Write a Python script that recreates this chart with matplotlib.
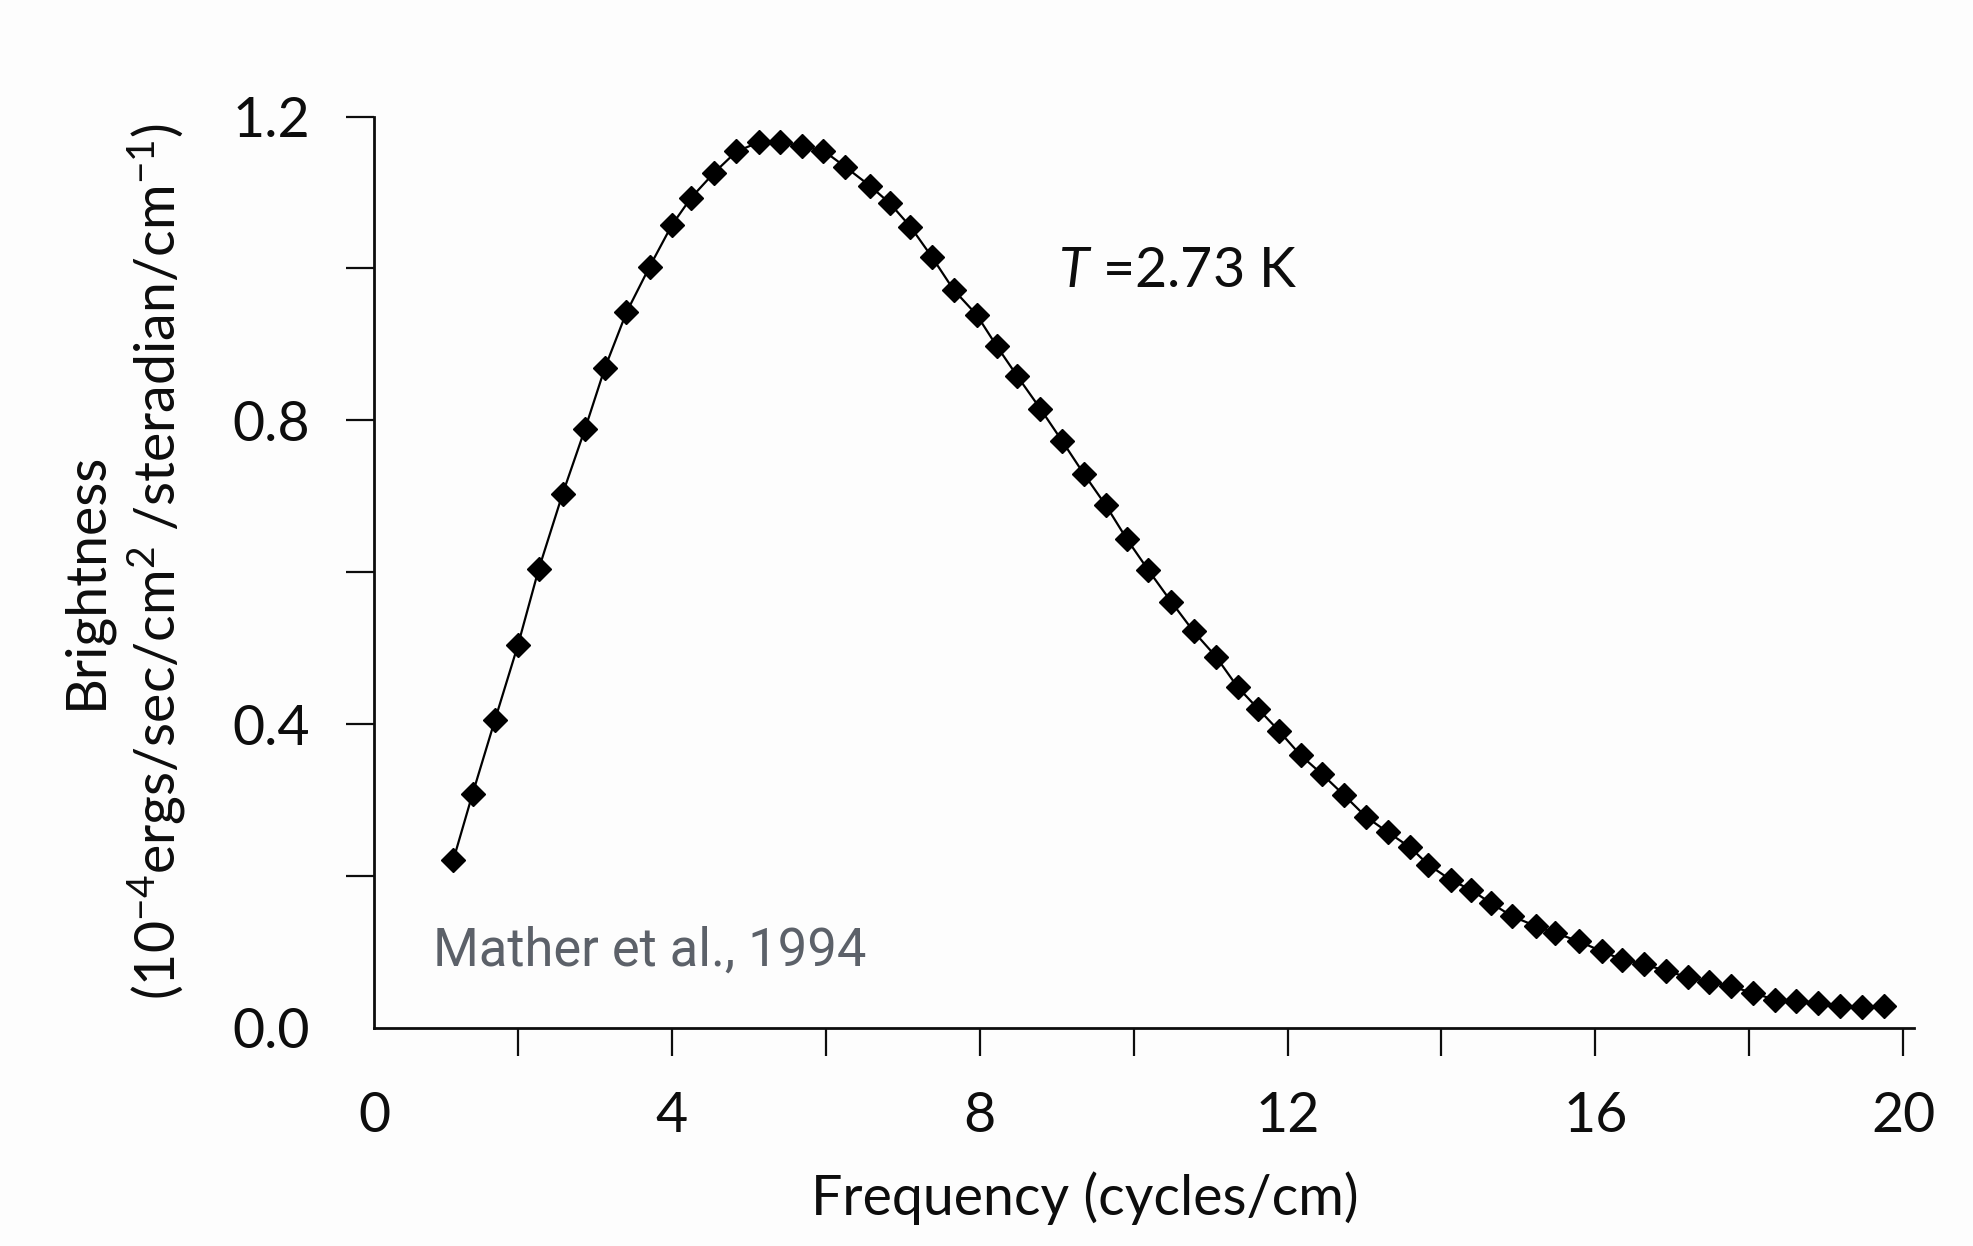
import matplotlib
matplotlib.use("Agg")
import matplotlib.pyplot as plt

# ---- data (COBE/FIRAS spectrum, T = 2.73 K) ----
frequency = [1.16, 1.41, 1.70, 2.00, 2.27, 2.58, 2.87, 3.13, 3.41, 3.71,
             4.00, 4.25, 4.55, 4.84, 5.13, 5.41, 5.69, 5.97, 6.25, 6.57,
             6.83, 7.10, 7.38, 7.66, 7.96, 8.22, 8.49, 8.79, 9.07, 9.35,
             9.64, 9.91, 10.19, 10.49, 10.78, 11.07, 11.35, 11.62, 11.89, 12.17,
             12.45, 12.73, 13.02, 13.30, 13.59, 13.83, 14.12, 14.38, 14.65, 14.92,
             15.23, 15.48, 15.79, 16.08, 16.35, 16.63, 16.92, 17.20, 17.47, 17.76,
             18.05, 18.34, 18.61, 18.89, 19.18, 19.46, 19.75]
brightness = [0.221, 0.308, 0.405, 0.504, 0.604, 0.703, 0.788, 0.869, 0.942, 1.002,
              1.057, 1.093, 1.126, 1.154, 1.166, 1.166, 1.161, 1.155, 1.134, 1.109,
              1.086, 1.055, 1.015, 0.972, 0.939, 0.898, 0.858, 0.815, 0.773, 0.730,
              0.688, 0.644, 0.603, 0.561, 0.522, 0.489, 0.449, 0.420, 0.391, 0.359,
              0.334, 0.307, 0.278, 0.258, 0.238, 0.215, 0.195, 0.182, 0.164, 0.147,
              0.134, 0.125, 0.114, 0.101, 0.090, 0.084, 0.075, 0.067, 0.061, 0.055,
              0.046, 0.037, 0.036, 0.033, 0.029, 0.027, 0.029]

x_major = [4, 8, 12, 16, 20]
x_major_labels = ["4", "8", "12", "16", "20"]
x_minor = [2, 6, 10, 14, 18]
y_major = [0.0, 0.4, 0.8, 1.2]
y_major_labels = ["0.0", "0.4", "0.8", "1.2"]
y_minor = [0.2, 0.6, 1.0]

plt.rcParams['font.family'] = ['Lato', 'DejaVu Sans']
plt.rcParams['mathtext.fontset'] = 'custom'
plt.rcParams['mathtext.rm'] = 'Lato'
plt.rcParams['mathtext.it'] = 'Lato:italic'
plt.rcParams['mathtext.default'] = 'regular'

W, H = 1974, 1246
bg = '#fdfdfd'
ink = '#0d0d0d'
fig = plt.figure(figsize=(W / 100, H / 100), dpi=100, facecolor=bg)

x0_px, x1_px = 374, 1914
y0_px, y1_px = 1028, 116.5
ax = fig.add_axes([x0_px / W, 1 - y0_px / H, (x1_px - x0_px) / W, (y0_px - y1_px) / H])
ax.set_facecolor(bg)

ax.plot(frequency, brightness, color='black', lw=1.6, marker='D', ms=12.5,
        mfc='black', mec='black', zorder=3)

xmin, xmax = 0.13, 20.14
ax.set_xlim(xmin, xmax)
ax.set_ylim(0, 1.2)

for s in ['top', 'right']:
    ax.spines[s].set_visible(False)
for s in ['left', 'bottom']:
    ax.spines[s].set_linewidth(2.0)
    ax.spines[s].set_color(ink)

ax.set_xticks([xmin] + x_major)
ax.set_xticklabels(["0"] + x_major_labels)
ax.set_xticks(x_minor, minor=True)
ax.set_yticks(y_major)
ax.set_yticklabels(y_major_labels)
ax.set_yticks(y_minor, minor=True)

ax.tick_params(axis='both', which='both', direction='out', length=20, width=1.6,
               color=ink, labelsize=40, labelcolor=ink)
ax.tick_params(axis='y', which='major', pad=26)
ax.tick_params(axis='x', which='major', pad=25)
ax.xaxis.get_major_ticks()[0].tick1line.set_visible(False)
ax.yaxis.get_major_ticks()[0].tick1line.set_visible(False)

fig.text(1085 / W, 1 - 1215 / H, "Frequency (cycles/cm)", ha='center', va='baseline',
         fontsize=40, color=ink)
fig.text(86 / W, 1 - 580 / H, "Brightness", rotation=90, ha='center', va='center',
         fontsize=40, color=ink)
fig.text(157 / W, 1 - 561 / H, r"(10$^{-4}$ergs/sec/cm$^{2}$ /steradian/cm$^{-1}$)",
         rotation=90, ha='center', va='center', fontsize=40, color=ink)
fig.text(1058 / W, 1 - 287 / H, r"$\mathit{T}$ =2.73 K", ha='left', va='baseline',
         fontsize=40, color=ink)
fig.text(433 / W, 1 - 966 / H, "Mather et al., 1994", ha='left', va='baseline',
         fontsize=37.8, color='#5c6169', family='Roboto', fontweight='normal')

fig.savefig("out.png", dpi=100, facecolor=bg)
